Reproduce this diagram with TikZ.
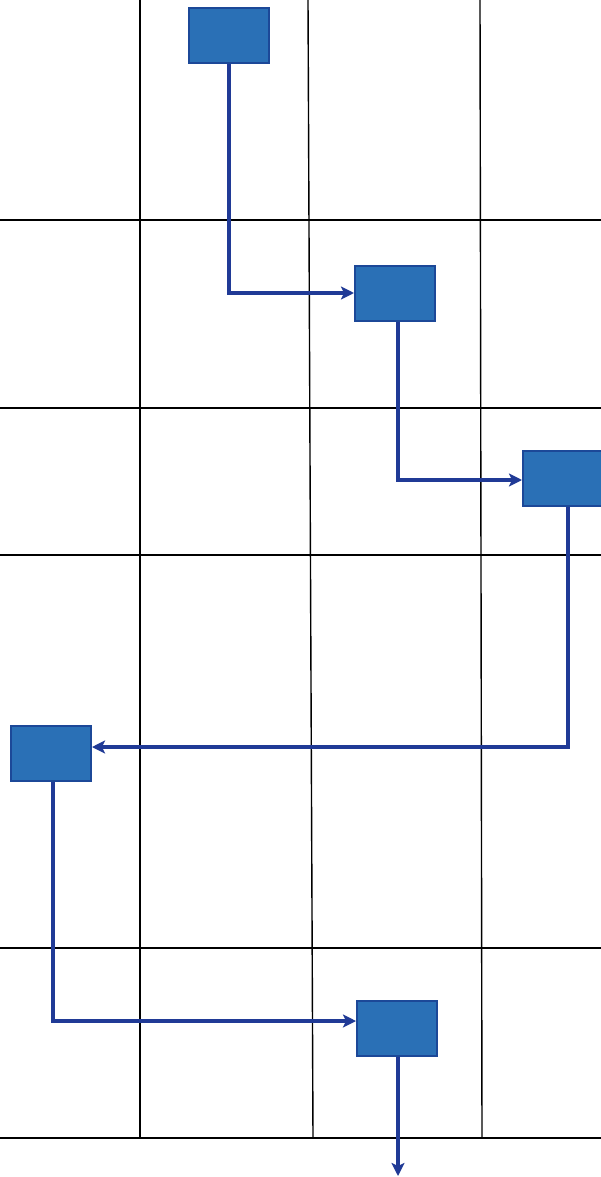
\documentclass[tikz,border=0pt]{standalone}
\usetikzlibrary{arrows.meta}
\definecolor{boxfill}{RGB}{42,112,182}
\definecolor{boxline}{RGB}{28,72,152}
\definecolor{flowline}{RGB}{32,58,150}
\tikzset{
  stepbox/.style={draw=boxline, line width=2pt, fill=boxfill, minimum width=80pt, minimum height=55pt, inner sep=0pt},
  flow/.style={draw=flowline, line width=3.4pt, -{Stealth[length=13pt,width=13pt,inset=3pt]}},
  grid line/.style={draw=black, line width=1.4pt}
}
\begin{document}
\begin{tikzpicture}[x=1pt,y=-1pt]
\useasboundingbox (0,0) rectangle (601,1177);
\fill[white] (0,0) rectangle (601,1177);
% grid
\foreach \yy in {220,408,555,948,1138} \draw[grid line] (0,\yy) -- (601,\yy);
\draw[grid line] (140,0) -- (140,1138);
\draw[grid line] (308,0) -- (313,1138);
\draw[grid line] (480,0) -- (482,1138);
% boxes
\node[stepbox] (b1) at (229,36) {};
\node[stepbox] (b2) at (395,293) {};
\node[stepbox] (b3) at (563,478) {};
\node[stepbox] (b4) at (51,753) {};
\node[stepbox] (b5) at (397,1028) {};
\coordinate (out) at (398,1176);
% connectors
\draw[flow] (b1.south) |- (b2.west);
\draw[flow] ([xshift=3pt]b2.south) |- ([yshift=-2pt]b3.west);
\draw[flow] ([xshift=5pt]b3.south) |- ([yshift=6pt]b4.east);
\draw[flow] ([xshift=2pt]b4.south) |- ([yshift=7pt]b5.west);
\draw[flow] ([xshift=1pt]b5.south) -- (out);
\end{tikzpicture}
\end{document}
